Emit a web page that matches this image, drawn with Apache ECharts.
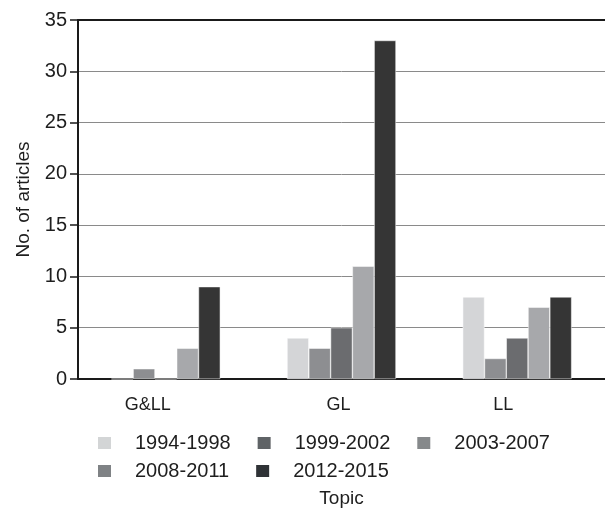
<!DOCTYPE html>
<html><head><meta charset="utf-8">
<script src="https://cdn.jsdelivr.net/npm/echarts@6/dist/echarts.min.js"></script>
<style>html,body{margin:0;padding:0;background:#fff}#c{width:605px;height:513px}</style>
</head><body><div id="c"></div>
<script>
var categories = ['G&LL', 'GL', 'LL'];
var seriesNames = ['1994-1998', '1999-2002', '2003-2007', '2008-2011', '2012-2015'];
var s1994 = [0, 4, 8];
var s1999 = [1, 3, 2];
var s2003 = [0, 5, 4];
var s2008 = [3, 11, 7];
var s2012 = [9, 33, 8];
var yTicks = [0, 5, 10, 15, 20, 25, 30, 35];

var barColors = ['#d4d5d7', '#8d8e91', '#6b6c6f', '#a7a8ab', '#353535'];
var legendColors = ['#d3d5d6', '#5f6366', '#86898b', '#7f8285', '#2f3236'];
var values = [s1994, s1999, s2003, s2008, s2012];
var FONT = 'Liberation Sans';
var TXT = '#1e1e1e';

var series = seriesNames.map(function (n, i) {
  return {
    name: n, type: 'bar', data: values[i],
    barGap: '0%', barCategoryGap: '38%',
    itemStyle: { color: barColors[i], borderColor: '#ffffff', borderWidth: 0.5 },
    emphasis: { disabled: true }
  };
});

function legendCfg(items, top) {
  return {
    show: true, left: 93, top: top, orient: 'horizontal',
    itemWidth: 13, itemHeight: 12, itemGap: 27,
    selectedMode: false,
    textStyle: { fontFamily: FONT, fontSize: 20, color: TXT, padding: [0, 0, 0, 19] },
    data: items.map(function (idx) {
      return { name: seriesNames[idx], icon: 'rect', itemStyle: { color: legendColors[idx], borderWidth: 0 } };
    })
  };
}

var chart = echarts.init(document.getElementById('c'), null, { renderer: 'canvas' });
chart.setOption({
  animation: false,
  backgroundColor: '#fff',
  grid: { left: 78, right: 0, top: 20, bottom: 129, containLabel: false },
  legend: [legendCfg([0, 1, 2], 428), legendCfg([3, 4], 456)],
  xAxis: [{
    type: 'category', data: categories, position: 'bottom',
    axisLine: { lineStyle: { color: '#1a1a1a', width: 2 } },
    axisTick: { show: false },
    axisLabel: {
      fontFamily: FONT, fontSize: 18, color: TXT, margin: 17,
      formatter: function (v, i) { return '{l' + i + '|' + v + '}'; },
      rich: {
        l0: { fontFamily: FONT, fontSize: 18, color: TXT, padding: [0, 36, 0, 0] },
        l1: { fontFamily: FONT, fontSize: 18, color: TXT, padding: [0, 6, 0, 0] },
        l2: { fontFamily: FONT, fontSize: 18, color: TXT, padding: [0, 28, 0, 0] }
      }
    },
    name: 'Topic', nameLocation: 'middle', nameGap: 110,
    nameTextStyle: { fontFamily: FONT, fontSize: 19, color: TXT }
  }, {
    type: 'category', data: categories, position: 'top',
    axisLine: { show: true, lineStyle: { color: '#1a1a1a', width: 2 } },
    axisTick: { show: false }, axisLabel: { show: false }
  }],
  yAxis: {
    type: 'value', min: yTicks[0], max: yTicks[yTicks.length - 1], interval: 5,
    axisLine: { show: true, lineStyle: { color: '#1a1a1a', width: 2 } },
    axisTick: { show: true, length: 8, lineStyle: { color: '#1a1a1a', width: 1.5 } },
    axisLabel: { fontFamily: FONT, fontSize: 20, color: TXT, margin: 11 },
    splitLine: { show: true, lineStyle: { color: '#8a8a8a', width: 1 } },
    name: 'No. of articles', nameLocation: 'middle', nameGap: 45, nameRotate: 90,
    nameTextStyle: { fontFamily: FONT, fontSize: 19, color: TXT }
  },
  series: series
});
</script></body></html>
